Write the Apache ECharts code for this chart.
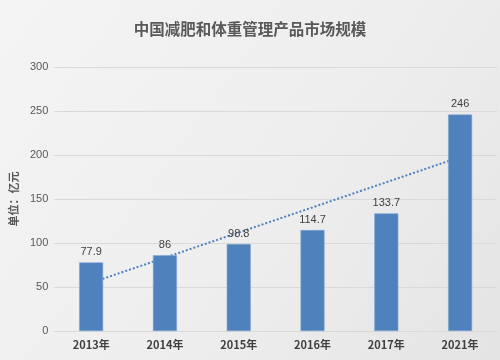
<!DOCTYPE html>
<html><head><meta charset="utf-8">
<script src="https://cdn.jsdelivr.net/npm/echarts@6/dist/echarts.min.js"></script>
<style>html,body{margin:0;padding:0;}#c{width:500px;height:360px;}</style>
</head><body><div id="c"></div>
<script>
const categories = ['2013年','2014年','2015年','2016年','2017年','2021年'];
const values = [77.9, 86, 98.8, 114.7, 133.7, 246];
const valueLabels = ['77.9','86','98.8','114.7','133.7','246'];
// linear trendline end values (first and last category)
const trendValues = [54.8, null, null, null, null, 197.6];
const yTicks = [0, 50, 100, 150, 200, 250, 300];

const chart = echarts.init(document.getElementById('c'));
chart.setOption({
  backgroundColor: {
    type: 'linear', x: 0, y: 0, x2: 1, y2: 1,
    colorStops: [{offset: 0, color: '#f4f4f4'}, {offset: 0.55, color: '#eeeeee'}, {offset: 1, color: '#e4e4e4'}]
  },
  animation: false,
  title: {
    text: '中国减肥和体重管理产品市场规模',
    left: 'center', top: 16,
    textStyle: {fontFamily: 'Noto Sans CJK SC', fontSize: 15.5, fontWeight: 'bold', color: '#595959'}
  },
  grid: {left: 49, right: 3, top: 67, bottom: 29},
  xAxis: {
    type: 'category', data: categories,
    axisTick: {show: false},
    axisLine: {lineStyle: {color: '#d9d9d9'}},
    axisLabel: {fontFamily: 'Noto Sans CJK SC', fontSize: 11, fontWeight: 'bold', color: '#404040', margin: 8}
  },
  yAxis: {
    type: 'value', min: yTicks[0], max: yTicks[yTicks.length - 1], interval: 50,
    name: '单位：亿元', nameLocation: 'middle', nameGap: 31, nameRotate: 90,
    nameTextStyle: {fontFamily: 'Noto Sans CJK SC', fontSize: 11, fontWeight: 'bold', color: '#595959'},
    axisLine: {show: false}, axisTick: {show: false},
    splitLine: {lineStyle: {color: '#d9d9d9'}},
    axisLabel: {fontFamily: 'Liberation Sans', fontSize: 11, color: '#595959', margin: 6}
  },
  series: [
    {
      type: 'bar', data: values, barWidth: 24,
      itemStyle: {color: '#4f81bd', borderColor: '#7ea4d3', borderWidth: 0.6},
      label: {
        show: true, position: 'top', distance: 5,
        fontFamily: 'Liberation Sans', fontSize: 11, color: '#404040',
        formatter: p => valueLabels[p.dataIndex]
      },
      z: 2
    },
    {
      type: 'line', data: trendValues, connectNulls: true, symbol: 'none',
      lineStyle: {color: '#4f81bd', width: 2, type: [2, 2]},
      z: 1
    }
  ]
});
</script></body></html>
